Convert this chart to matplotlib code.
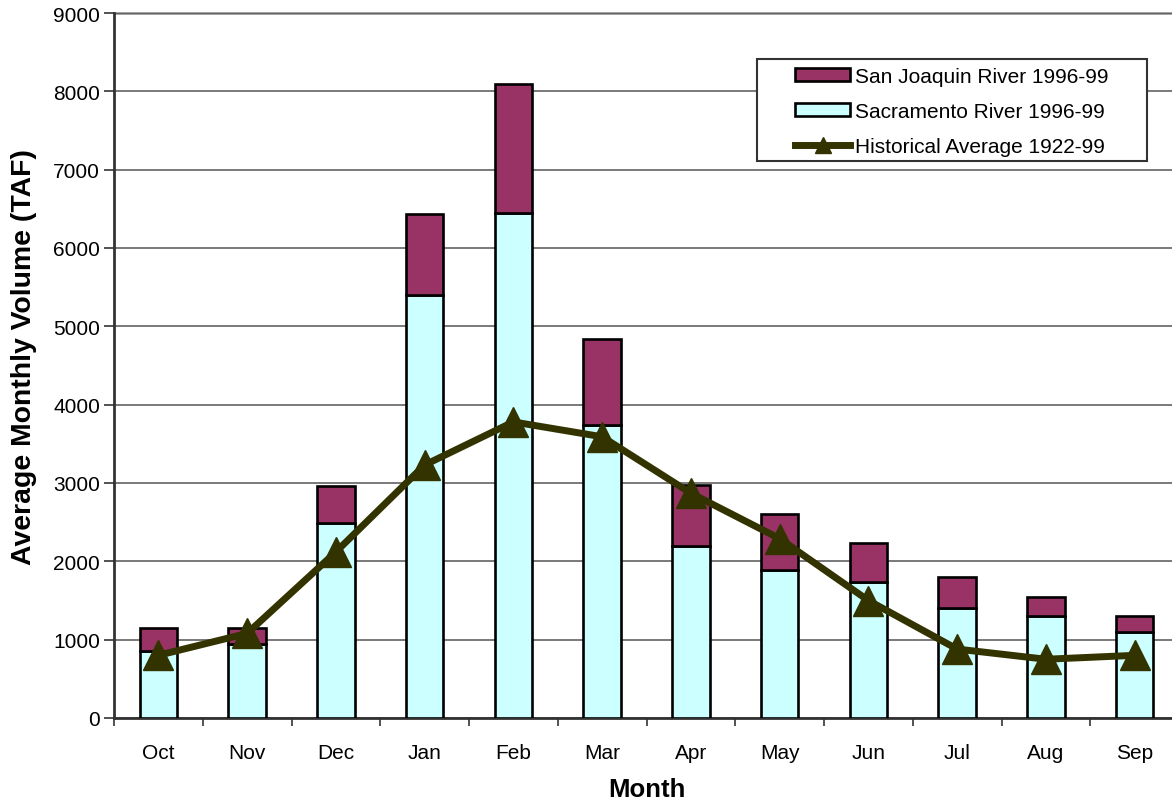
import matplotlib
matplotlib.use("Agg")
import matplotlib.pyplot as plt
import numpy as np
from matplotlib.lines import Line2D
from matplotlib.patches import Patch, Rectangle

months = ["Oct", "Nov", "Dec", "Jan", "Feb", "Mar", "Apr", "May", "Jun", "Jul", "Aug", "Sep"]
sacramento = [850, 950, 2490, 5400, 6450, 3740, 2200, 1890, 1730, 1410, 1300, 1100]
san_joaquin = [300, 200, 470, 1030, 1650, 1100, 780, 710, 510, 390, 240, 200]
historical = [800, 1080, 2120, 3230, 3780, 3590, 2870, 2290, 1500, 880, 750, 800]
yticks = list(range(0, 9001, 1000))

plt.rcParams["font.family"] = ["Liberation Sans", "DejaVu Sans"]

W, H = 1172, 804
fig = plt.figure(figsize=(W / 100, H / 100), dpi=100)
ax = fig.add_axes([114 / W, 85 / H, (1179 - 114) / W, (719 - 14) / H])

x = np.arange(len(months))
bw = 0.42
ax.bar(x, sacramento, width=bw, color="#CCFFFF", edgecolor="black", linewidth=1.9, zorder=3)
ax.bar(x, san_joaquin, width=bw, bottom=sacramento, color="#993366", edgecolor="black",
       linewidth=1.9, zorder=3)
ax.plot(x, historical, color="#333300", linewidth=5, marker="^", markersize=21,
        markerfacecolor="#333300", markeredgecolor="#333300", zorder=4)

ax.set_xlim(-0.5, len(months) - 0.5)
ax.set_ylim(0, 9000)
ax.set_yticks(yticks)
ax.set_yticklabels([str(v) for v in yticks], fontsize=15)
ax.set_xticks(x)
ax.set_xticklabels(months, fontsize=15)
ax.set_xticks(np.arange(-0.5, len(months), 1.0), minor=True)
ax.tick_params(axis="x", which="major", length=0, pad=18)
ax.tick_params(axis="x", which="minor", length=6, width=1.3, color="#444444", direction="out")
ax.tick_params(axis="y", length=7, width=1.3, color="#444444", direction="out", pad=3)

ax.grid(axis="y", color="#555555", linewidth=1.1, zorder=0)
for s in ["top", "right"]:
    ax.spines[s].set_visible(False)
for s in ["left", "bottom"]:
    ax.spines[s].set_color("#333333")
    ax.spines[s].set_linewidth(2)
ax.axhline(9000, color="#999999", linewidth=2, zorder=1, clip_on=False)

ax.set_ylabel("Average Monthly Volume (TAF)", fontsize=20.4, fontweight="bold", labelpad=12)
ax.yaxis.label.set_y(0.514)
ax.set_xlabel("Month", fontsize=18.5, fontweight="bold", labelpad=11)

# legend frame drawn separately so the inner padding can be wider on the left
fig.add_artist(Rectangle((757 / W, 1 - 162 / H), (1147 - 757) / W, (162 - 60) / H,
                         transform=fig.transFigure, facecolor="white", edgecolor="#333333",
                         linewidth=1.5, zorder=5))

handles = [
    Patch(facecolor="#993366", edgecolor="black", linewidth=1.9),
    Patch(facecolor="#CCFFFF", edgecolor="black", linewidth=1.9),
    Line2D([0], [0], color="#333300", linewidth=5, marker="^", markersize=12,
           markerfacecolor="#333300", markeredgecolor="#333300"),
]
labels = ["San Joaquin River 1996-99", "Sacramento River 1996-99", "Historical Average 1922-99"]
leg = fig.legend(handles, labels, loc="upper left", bbox_to_anchor=(791 / W, 1 - 64 / H),
                 fontsize=15, frameon=False, handlelength=2.64, handleheight=0.6,
                 handletextpad=0.25, labelspacing=0.76, borderpad=0.2, borderaxespad=0)
leg.set_zorder(6)

fig.savefig("out.png", dpi=100)
